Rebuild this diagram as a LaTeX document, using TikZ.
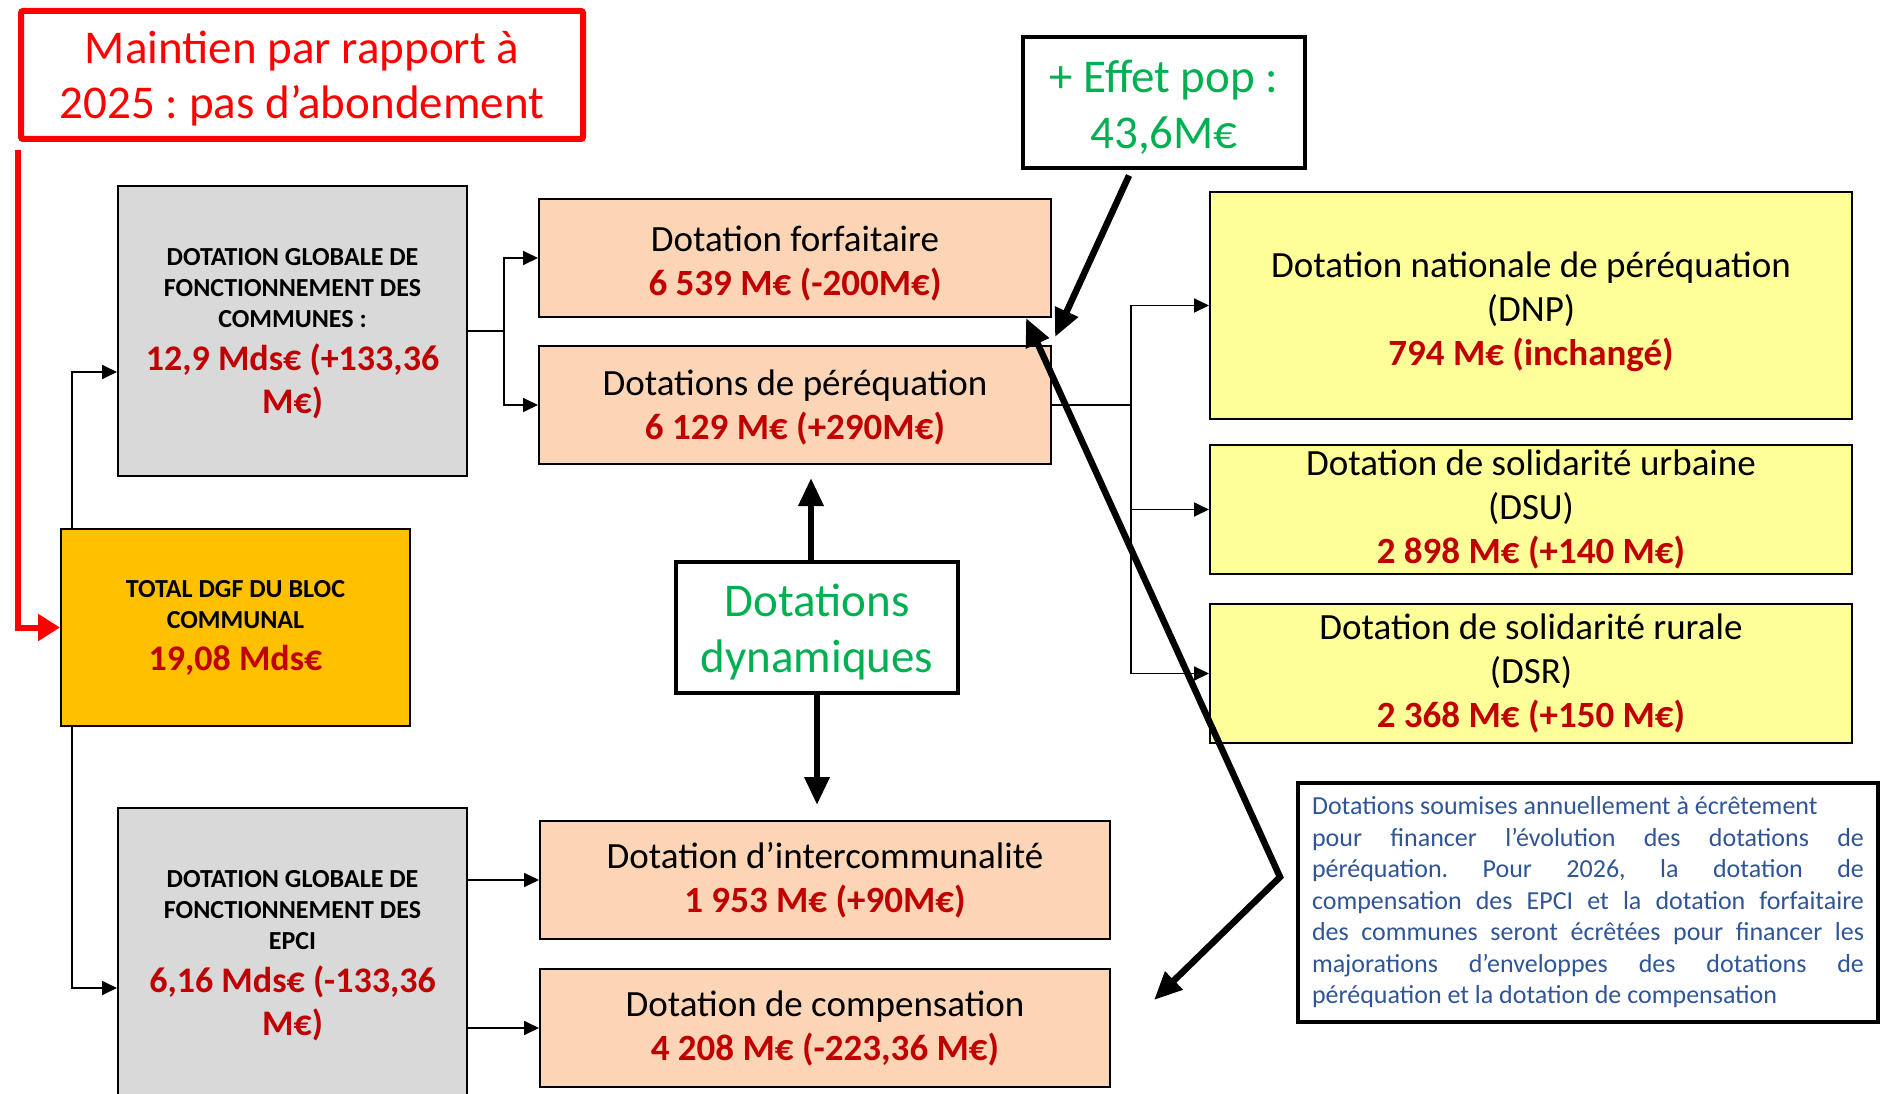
\documentclass[tikz,border=0pt]{standalone}
\usepackage{fontspec}
\setmainfont{Carlito}
\usetikzlibrary{positioning}
\usetikzlibrary{arrows.meta}
\frenchspacing

\definecolor{dred}{HTML}{C00000}
\definecolor{peach}{HTML}{FBD5B5}
\definecolor{boxgray}{HTML}{D9D9D9}
\definecolor{gold}{HTML}{FFC000}
\definecolor{paleyellow}{HTML}{FFFF99}
\definecolor{popgreen}{HTML}{00B050}
\definecolor{noteblue}{HTML}{2F5597}

\newcommand{\montant}[1]{\textcolor{dred}{\bfseries #1}}
\newcommand{\titre}[1]{{\fontsize{26}{31}\selectfont\bfseries #1\par}}
\newcommand{\boxcentre}{\centering\spaceskip=0pt\xspaceskip=0pt\relax}
\newcommand{\boxjustify}{\leftskip=0pt\rightskip=0pt\spaceskip=0pt\xspaceskip=0pt\parfillskip=0pt plus 1fil\tolerance=10000\relax}

\begin{document}
\begin{tikzpicture}[x=1pt, y=-1pt,
    box/.style={draw=black, line width=2pt, inner sep=0pt, execute at begin node=\boxcentre},
    graybox/.style={box, fill=boxgray, text width=349pt, minimum height=290pt, text height=23pt},
    peachbox/.style={box, fill=peach, minimum height=118pt, font=\fontsize{37}{44}\selectfont},
    yellowbox/.style={box, fill=paleyellow, text width=642pt, font=\fontsize{37}{44}\selectfont},
    greenbox/.style={draw=black, line width=4pt, inner sep=0pt, text width=282pt, minimum height=131pt, text height=41pt, execute at begin node=\boxcentre, text=popgreen, font=\fontsize{47}{56}\selectfont},
    thinarrow/.style={line width=1.8pt, -{Triangle[length=15pt,width=14pt]}},
    thickarrow/.style={line width=6.5pt, -{Triangle[length=28pt,width=24pt]}},
  ]

  \useasboundingbox (0,0) rectangle (1881,1094);

  \node [draw=red, line width=6pt, rounded corners=2pt, inner sep=0pt, text width=562pt, minimum height=128pt, text height=40pt, execute at begin node=\boxcentre, text=red, font=\fontsize{47}{55}\selectfont] (maint) at (302,75) {Maintien par rapport à\\2025 : pas d’abondement};

  \node [graybox] (gcom) at (292.5,331) {\titre{DOTATION GLOBALE DE\\FONCTIONNEMENT DES\\COMMUNES :}{\fontsize{36}{43}\selectfont\montant{12,9 Mds€ (+133,36\\M€)}\par}};
  \node [graybox, below=330pt of gcom] (gepci) {\titre{DOTATION GLOBALE DE\\FONCTIONNEMENT DES\\EPCI}{\fontsize{36}{43}\selectfont\montant{6,16 Mds€ (-133,36\\M€)}\par}};
  \node [box, fill=gold, text width=349pt, minimum height=197pt] (total) at (235.5,627.5) {\titre{TOTAL DGF DU BLOC\\COMMUNAL}{\fontsize{36}{42}\selectfont\montant{19,08 Mds€}\par}};

  \node [peachbox, text width=512pt, text height=36pt] (forf) at (795,258) {Dotation forfaitaire\\\montant{6 539 M€ (-200M€)}};
  \node [peachbox, text width=512pt, text height=31pt, below=27pt of forf] (pereq) {Dotations de péréquation\\\montant{6 129 M€ (+290M€)}};
  \node [peachbox, text width=570pt, anchor=north west] (inter) at (539,820) {Dotation d’intercommunalité\\\montant{1 953 M€ (+90M€)}};
  \node [peachbox, text width=570pt, below=28pt of inter] (comp) {Dotation de compensation\\\montant{4 208 M€ (-223,36 M€)}};

  \node [yellowbox, minimum height=227pt, text height=38pt] (dnp) at (1531,305.5) {Dotation nationale de péréquation\\(DNP)\\\montant{794 M€ (inchangé)}};
  \node [yellowbox, minimum height=129pt, below=24pt of dnp] (dsu) {Dotation de solidarité urbaine\\(DSU)\\\montant{2 898 M€ (+140 M€)}};
  \node [yellowbox, minimum height=139pt, below=28pt of dsu] (dsr) {Dotation de solidarité rurale\\(DSR)\\\montant{2 368 M€ (+150 M€)}};

  \node [greenbox] (effet) at (1164,103) {+ Effet pop :\\43,6M€};
  \node [greenbox] (dyn) at (817,627.5) {Dotations\\dynamiques};

  \node [draw=black, line width=4pt, text width=552pt, inner xsep=14pt, inner ysep=0pt, minimum height=239pt, execute at begin node=\boxjustify, text=noteblue, font=\fontsize{26}{31.5}\selectfont] (note) at (1588,902.5) {Dotations soumises annuellement à écrêtement\newline
    pour financer l’évolution des dotations de\linebreak
    péréquation. Pour 2026, la dotation de\linebreak
    compensation des EPCI et la dotation forfaitaire\linebreak
    des communes seront écrêtées pour financer les\linebreak
    majorations d’enveloppes des dotations de\linebreak
    péréquation et la dotation de compensation};

  \coordinate (redstart) at (18,150);
  \coordinate [right=36pt of gcom.east] (jcom);
  \coordinate [right=79pt of pereq.east] (jpereq);
  \coordinate (poptip) at (1055,337);
  \coordinate (forftip) at (1026,318);
  \coordinate (bend) at (1280,877);
  \coordinate (comptip) at (1154,1000);
  \coordinate (uptip) at (811,478);
  \coordinate (downtip) at (817,805);

  \draw [red, line width=6pt, -{Triangle[length=22pt,width=26pt]}] (redstart) |- (total.west);

  \draw [thinarrow] ([xshift=12pt]total.north west) |- ([yshift=-41pt]gcom.west);
  \draw [thinarrow] ([xshift=12pt]total.south west) |- ([yshift=-35pt]gepci.west);
  \draw [thinarrow] (gcom.east) -- (jcom) |- (forf.west);
  \draw [thinarrow] (gcom.east) -- (jcom) |- (pereq.west);
  \draw [thinarrow] (gepci.east |- inter.west) -- (inter.west);
  \draw [thinarrow] (gepci.east |- comp.west) -- (comp.west);
  \draw [thinarrow] (pereq.east) -- (jpereq) |- (dnp.west);
  \draw [thinarrow] (pereq.east) -- (jpereq) |- (dsu.west);
  \draw [thinarrow] (pereq.east) -- (jpereq) |- (dsr.west);

  \draw [thickarrow] ([xshift=-35pt,yshift=-5pt]effet.south) -- (poptip);
  \draw [thickarrow] (dyn.north -| uptip) -- (uptip);
  \draw [thickarrow] (dyn.south) -- (downtip);
  \draw [thickarrow, {Triangle[length=28pt,width=24pt]}-{Triangle[length=28pt,width=24pt]}] (forftip) -- (bend) -- (comptip);

\end{tikzpicture}
\end{document}
